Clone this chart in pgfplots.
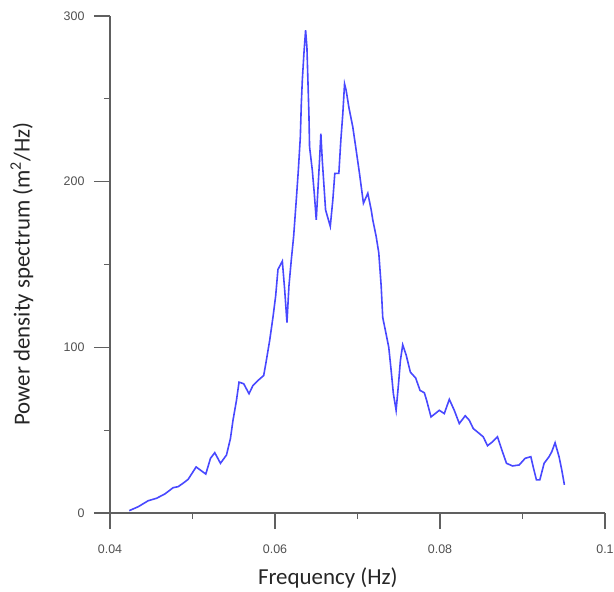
\documentclass[border=0pt]{standalone}
\usepackage{fontspec}
\setmainfont{Carlito}
\newfontfamily\ticksf{Liberation Sans}
\usepackage{pgfplots}
\pgfplotsset{compat=1.18}
\definecolor{psd}{RGB}{72,72,255}
\definecolor{axgray}{RGB}{96,96,96}
\definecolor{lblgray}{RGB}{80,80,80}
\begin{document}
\begin{tikzpicture}
\useasboundingbox (0,0) rectangle (614bp,592bp);
\begin{axis}[
    at={(110bp,79bp)}, anchor=south west,
    scale only axis,
    width=495bp, height=497bp,
    xmin=0.04, xmax=0.1,
    ymin=0, ymax=300,
    axis lines=left,
    axis line style={-, draw=axgray, line width=1.2bp},
    xtick={0.04,0.06,0.08,0.1},
    xticklabels={0.04,0.06,0.08,0.1},
    scaled x ticks=false,
    ytick={0,100,200,300},
    minor x tick num=1,
    minor y tick num=1,
    tick align=outside,
    major tick length=16bp,
    minor tick length=6bp,
    tick style={draw=axgray, line width=1.2bp},
    /pgf/number format/assume math mode=true,
    ticklabel style={font=\ticksf\fontsize{12.5}{12.5}\selectfont, text=lblgray},
    xticklabel style={yshift=-12bp},
    yticklabel style={xshift=-6bp},
    xlabel={Frequency (Hz)},
    ylabel={Power density spectrum (m\textsuperscript{2}/Hz)},
    label style={font=\fontsize{23}{23}\selectfont, text=black!85},
    xlabel style={at={(axis description cs:0.44,0)}, anchor=center, yshift=-65bp},
    ylabel style={at={(axis description cs:-0.178,0.481)}, anchor=center},
    clip=false,
]
\addplot[color=psd, line width=1.6bp, no marks] coordinates {
(0.04233,1.4)(0.04342,3.8)(0.04463,7.4)(0.04565,8.9)(0.04665,11.5)(0.04766,15.3)
(0.04826,15.9)(0.04887,18.0)(0.04947,20.3)(0.05044,27.8)(0.05161,23.5)(0.05218,33)
(0.05270,36.4)(0.05339,30)(0.05412,35)(0.05460,45)(0.05491,56)(0.05533,68)
(0.05564,79)(0.05621,78)(0.05685,72)(0.05733,77)(0.05794,80)(0.05863,83)
(0.05895,92)(0.05935,104)(0.05975,118)(0.06008,131)(0.06036,147)(0.06089,152)
(0.06117,135)(0.06145,115)(0.06169,137)(0.06198,153)(0.06226,167)(0.06258,189)
(0.06283,207)(0.06307,227)(0.06319,247)(0.06331,261)(0.06350,277)(0.06371,291.5)
(0.06387,281)(0.06399,261)(0.06411,241)(0.06419,221)(0.06452,207)(0.06476,193)
(0.06500,177)(0.06520,195)(0.06540,213)(0.06556,229)(0.06573,213)(0.06589,201)
(0.06613,183)(0.06670,173)(0.06701,189)(0.06725,205)(0.06774,205)(0.06798,225)
(0.06822,241)(0.06843,259)(0.06863,255)(0.06895,245)(0.06943,233)(0.06984,219)
(0.07024,205)(0.07072,187)(0.07125,193)(0.07166,183)(0.07185,177)(0.07226,167)
(0.07258,157)(0.07287,137)(0.07306,118)(0.07347,108)(0.07379,100)(0.07408,86)
(0.07435,72)(0.07468,62)(0.07499,79)(0.07520,92)(0.07548,101.5)(0.07589,95.5)
(0.07641,85)(0.07705,81.5)(0.07758,74)(0.07810,72.6)(0.07838,68)(0.07891,58)
(0.07992,62)(0.08052,60)(0.08113,68.6)(0.08173,62)(0.08234,54)(0.08306,58.7)
(0.08355,56)(0.08403,51)(0.08476,48)(0.08524,46)(0.08576,40.6)(0.08637,43)
(0.08697,46)(0.08750,38)(0.08806,30)(0.08879,28.4)(0.08960,29)(0.09032,33)
(0.09101,34)(0.09129,28)(0.09169,20)(0.09210,20)(0.09262,30)(0.09322,34)
(0.09355,37)(0.09395,42.4)(0.09443,34)(0.09476,26)(0.09508,17)
};
\end{axis}
\end{tikzpicture}
\end{document}
